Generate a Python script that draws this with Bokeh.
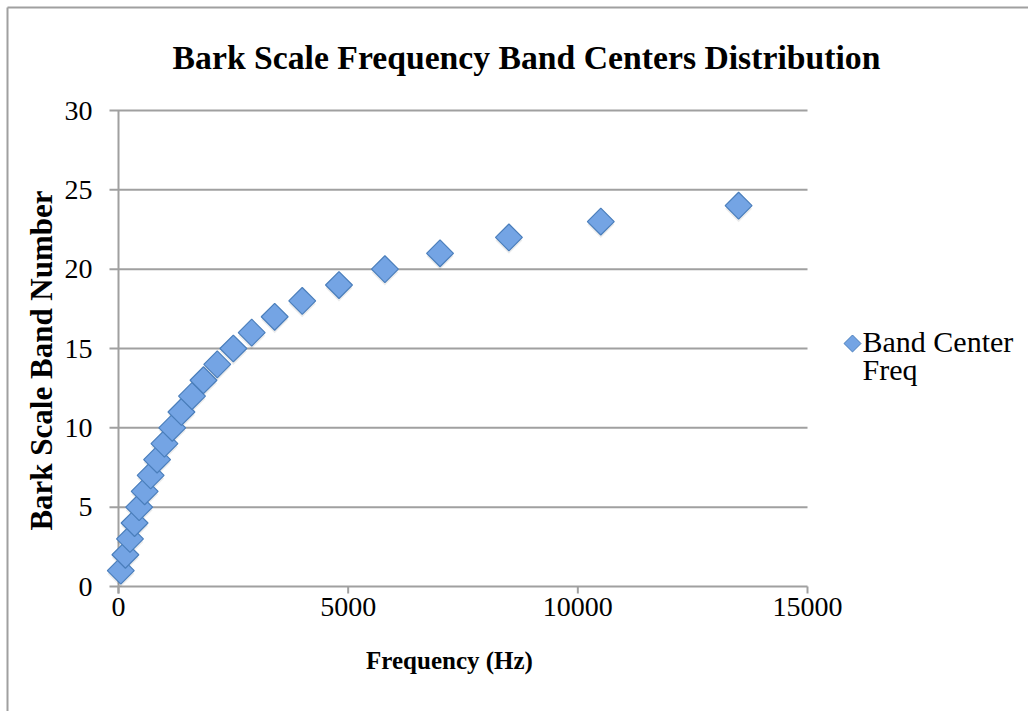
import math
from bokeh.plotting import figure
from bokeh.models import ColumnDataSource, Range1d
from bokeh.core.properties import value
from bokeh.embed import file_html
from bokeh.resources import INLINE

# Bark scale critical band centre frequencies (Hz) and band numbers
band_number = list(range(1, 25))
center_freq = [50, 150, 250, 350, 450, 570, 700, 840, 1000, 1170, 1370, 1600,
               1850, 2150, 2500, 2900, 3400, 4000, 4800, 5800, 7000, 8500,
               10500, 13500]

x_ticks = [0, 5000, 10000, 15000]
y_ticks = [0, 5, 10, 15, 20, 25, 30]

title_text = "Bark Scale Frequency Band Centers Distribution"
x_title = "Frequency (Hz)"
y_title = "Bark Scale Band Number"
legend_lines = ["Band Center", "Freq"]

# canvas and plot-area geometry (pixels)
W, H = 1028, 711
LEFT, RIGHT, TOP, BOTTOM = 118, 807, 110, 586
XMAX, YMAX = 15000, 30

GRID = "#a0a0a0"
FILL = "#74a4e4"
EDGE = "#4a7ebb"
SERIF = "Liberation Serif"


def dx(px):
    """Canvas x pixel -> data x."""
    return (px - LEFT) / (RIGHT - LEFT) * XMAX


def dy(py):
    """Canvas y pixel -> data y."""
    return (BOTTOM - py) / (BOTTOM - TOP) * YMAX


# The frame covers the whole canvas so that nothing (titles, legend, markers
# sitting on the axis) gets clipped; axes are drawn by hand from the ticks.
p = figure(width=W, height=H, output_backend="svg", toolbar_location=None,
           x_range=Range1d(dx(0), dx(W)), y_range=Range1d(dy(H), dy(0)),
           x_axis_type=None, y_axis_type=None, min_border=0)
p.outline_line_color = None
p.grid.visible = False
p.background_fill_color = "white"
p.border_fill_color = "white"

# outer chart border (top and left edges)
p.segment(x0=[dx(7), dx(7)], y0=[dy(7), dy(7)], x1=[dx(W + 5), dx(7)],
          y1=[dy(7), dy(H + 5)], line_color=GRID, line_width=2)

# horizontal gridlines with their outward tick marks
p.segment(x0=[dx(LEFT - 9)] * len(y_ticks), x1=[XMAX] * len(y_ticks),
          y0=y_ticks, y1=y_ticks, line_color=GRID, line_width=2)

# vertical axis line and x tick marks
p.segment(x0=[0], x1=[0], y0=[dy(BOTTOM + 7)], y1=[YMAX],
          line_color=GRID, line_width=2)
p.segment(x0=x_ticks, x1=x_ticks, y0=[0] * len(x_ticks),
          y1=[dy(BOTTOM + 7)] * len(x_ticks), line_color=GRID, line_width=2)

# tick labels
p.text(x=[dx(92)] * len(y_ticks), y=y_ticks, text=[str(t) for t in y_ticks],
       text_align="right", text_baseline="middle", text_font=value(SERIF),
       text_font_size=value("28px"), text_color="black")
p.text(x=x_ticks, y=[dy(597)] * len(x_ticks), text=[str(t) for t in x_ticks],
       text_align="center", text_baseline="top", text_font=value(SERIF),
       text_font_size=value("28px"), text_color="black")

# soft drop shadow a few pixels under each diamond
shadow_dy = 3 * YMAX / (BOTTOM - TOP)
shadow_src = ColumnDataSource(dict(x=center_freq,
                                   y=[b - shadow_dy for b in band_number]))
p.scatter(x="x", y="y", source=shadow_src, marker="square",
          angle=math.pi / 4, size=19, fill_color="#000000", fill_alpha=0.08,
          line_color=None)

src = ColumnDataSource(dict(x=center_freq, y=band_number))
p.scatter(x="x", y="y", source=src, marker="square", angle=math.pi / 4,
          size=19, fill_color=FILL, line_color=EDGE, line_width=1.2)

# chart title
p.text(x=[dx(526)], y=[dy(57)], text=[title_text], text_align="center",
       text_baseline="middle", text_font=value(SERIF),
       text_font_style="bold", text_font_size=value("33.7px"),
       text_color="black")

# axis titles
p.text(x=[dx(449)], y=[dy(660)], text=[x_title], text_align="center",
       text_baseline="middle", text_font=value(SERIF),
       text_font_style="bold", text_font_size=value("25px"),
       text_color="black")
p.text(x=[dx(41)], y=[dy(360)], text=[y_title], text_align="center",
       text_baseline="middle", angle=math.pi / 2, text_font=value(SERIF),
       text_font_style="bold", text_font_size=value("31px"),
       text_color="black")

# legend: marker plus two-line entry text
p.scatter(x=[dx(852)], y=[dy(343)], marker="square", angle=math.pi / 4,
          size=12, fill_color=FILL, line_color=EDGE, line_width=1)
p.text(x=[dx(862)] * len(legend_lines),
       y=[dy(341 + 28 * i) for i in range(len(legend_lines))],
       text=legend_lines, text_align="left", text_baseline="middle",
       text_font=value(SERIF), text_font_size=value("30px"),
       text_color="black")

open("out.html", "w").write(file_html(p, INLINE))
